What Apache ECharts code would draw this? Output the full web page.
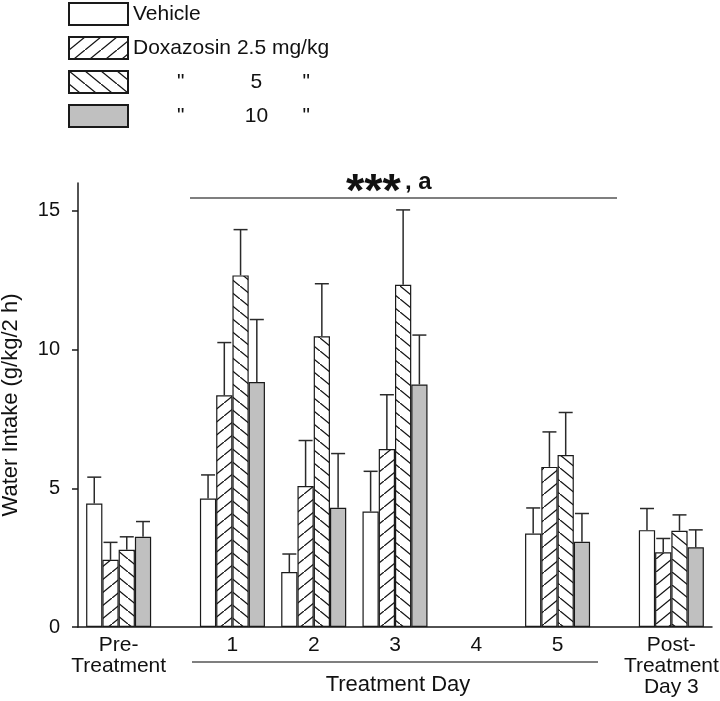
<!DOCTYPE html>
<html>
<head>
<meta charset="utf-8">
<script src="https://cdn.jsdelivr.net/npm/echarts@6/dist/echarts.min.js"></script>
<style>
  html, body { margin: 0; padding: 0; background: #fff; }
  #chart { width: 720px; height: 701px; }
</style>
</head>
<body>
<div id="chart"></div>
<script>
// ---------- data ----------
const categories = ['Pre-\nTreatment', '1', '2', '3', '4', '5', 'Post-\nTreatment\nDay 3'];
const seriesNames = ['Vehicle', 'Doxazosin 2.5 mg/kg', '5', '10'];
const vehicle     = [4.45, 4.63, 1.98, 4.16, null, 3.37, 3.49];
const vehicleErr  = [0.95, 0.85, 0.65, 1.45, null, 0.92, 0.78];
const dox25       = [2.42, 8.35, 5.08, 6.41, null, 5.77, 2.69];
const dox25Err    = [0.63, 1.90, 1.64, 1.96, null, 1.26, 0.50];
const dox5        = [2.78, 12.67, 10.48, 12.33, null, 6.20, 3.47];
const dox5Err     = [0.47, 1.65, 1.89, 2.70, null, 1.53, 0.57];
const dox10       = [3.25, 8.83, 4.30, 8.74, null, 3.07, 2.87];
const dox10Err    = [0.55, 2.25, 1.95, 1.78, null, 1.02, 0.63];
const yTicks = [0, 5, 10, 15];
const yAxisName = 'Water Intake (g/kg/2 h)';
const xAxisTitle = 'Treatment Day';
const sigLabelStars = '***';
const sigLabelRest = ', a';

// ---------- layout ----------
const SLOT_COUNT = 39;
const GROUP_SLOT = [2, 9, 14, 19, 24, 29, 36];
const FONT = '"Liberation Sans", Arial, sans-serif';
const GRID = { left: 78, right: 8, top: 183, bottom: 74, containLabel: false, outerBoundsMode: 'none' };
const BAR_W = (720 - GRID.left - GRID.right) / SLOT_COUNT;

function hatch(dir) {
  const W = 16, H = 13;
  const c = document.createElement('canvas');
  c.width = W; c.height = H;
  const ctx = c.getContext('2d');
  ctx.fillStyle = '#fff';
  ctx.fillRect(0, 0, W, H);
  ctx.strokeStyle = '#111';
  ctx.lineWidth = 1.3;
  ctx.beginPath();
  if (dir === '/') {
    ctx.moveTo(-W * 0.1, H * 1.1); ctx.lineTo(W * 1.1, -H * 0.1);
  } else {
    ctx.moveTo(-W * 0.1, -H * 0.1); ctx.lineTo(W * 1.1, H * 1.1);
  }
  ctx.stroke();
  return c;
}

const fills = [
  '#ffffff',
  { image: hatch('/'), repeat: 'repeat' },
  { image: hatch('\\'), repeat: 'repeat' },
  '#c0c0c0'
];
const means = [vehicle, dox25, dox5, dox10];
const errs = [vehicleErr, dox25Err, dox5Err, dox10Err];

const slotLabel = {};
GROUP_SLOT.forEach((s, i) => { slotLabel[s] = categories[i]; });
const slots = Array.from({ length: SLOT_COUNT }, (_, i) => String(i));

function slotData(arr) {
  const out = new Array(SLOT_COUNT).fill(null);
  arr.forEach((v, i) => { out[GROUP_SLOT[i]] = v; });
  return out;
}

const series = [];
means.forEach((m, k) => {
  series.push({
    name: seriesNames[k],
    type: 'bar',
    data: slotData(m),
    barWidth: BAR_W,
    barGap: '0%',
    itemStyle: { color: fills[k], borderColor: '#1a1a1a', borderWidth: 1.2 },
    emphasis: { disabled: true },
    z: 2
  });
});
means.forEach((m, k) => {
  const d = [];
  m.forEach((v, i) => { if (v != null) d.push([GROUP_SLOT[i], v, errs[k][i]]); });
  series.push({
    name: 'err' + k,
    type: 'custom',
    data: d,
    encode: { x: 0, y: 1 },
    z: 3,
    silent: true,
    renderItem: function (params, api) {
      const slot = api.value(0), v = api.value(1), e = api.value(2);
      const p0 = api.coord([slot, v]);
      const p1 = api.coord([slot, v + e]);
      const bw = api.size([1, 0])[0];
      const x = p0[0] + (k - 1.5) * bw;
      const cap = 7;
      const st = { stroke: '#2a2a2a', lineWidth: 1.5 };
      return {
        type: 'group',
        children: [
          { type: 'line', shape: { x1: x, y1: p0[1], x2: x, y2: p1[1] }, style: st },
          { type: 'line', shape: { x1: x - cap, y1: p1[1], x2: x + cap, y2: p1[1] }, style: st }
        ]
      };
    }
  });
});

const LF = 21;
const richLegend = {
  p: { width: 44, fontSize: LF, fontFamily: FONT, color: '#111' },
  q: { fontSize: LF, fontFamily: FONT, color: '#111' },
  s1: { width: 56, fontSize: LF, fontFamily: FONT, color: '#111' },
  n: { width: 32, align: 'center', fontSize: LF, fontFamily: FONT, color: '#111' },
  s2: { width: 30, fontSize: LF, fontFamily: FONT, color: '#111' }
};

const chart = echarts.init(document.getElementById('chart'), null, { renderer: 'canvas' });
chart.setOption({
  backgroundColor: '#fff',
  animation: false,
  textStyle: { fontFamily: FONT },
  legend: {
    data: seriesNames,
    orient: 'vertical',
    left: 68,
    top: 2,
    padding: 0,
    itemWidth: 59,
    itemHeight: 22,
    itemGap: 10,
    icon: 'rect',
    textStyle: { fontSize: LF, fontFamily: FONT, color: '#111', rich: richLegend },
    formatter: function (name) {
      if (name === seriesNames[2] || name === seriesNames[3]) {
        return '{p| }{q|"}{s1| }{n|' + name + '}{s2| }{q|"}';
      }
      return name;
    }
  },
  grid: GRID,
  xAxis: {
    type: 'category',
    data: slots,
    boundaryGap: true,
    axisLine: { lineStyle: { color: '#1a1a1a', width: 1.5 } },
    axisTick: { show: false },
    axisLabel: {
      interval: 0,
      margin: 8,
      fontSize: 21,
      lineHeight: 21,
      color: '#111',
      fontFamily: FONT,
      formatter: function (v, idx) { return slotLabel[idx] || ''; }
    },
    splitLine: { show: false }
  },
  yAxis: {
    type: 'value',
    min: 0,
    max: 16,
    interval: 5,
    name: yAxisName,
    nameLocation: 'middle',
    nameGap: 56,
    nameRotate: 90,
    nameTextStyle: { fontSize: 22, color: '#111', fontFamily: FONT },
    axisLine: { show: true, lineStyle: { color: '#1a1a1a', width: 1.5 } },
    axisTick: { show: true, length: 6, customValues: yTicks, lineStyle: { color: '#1a1a1a', width: 1.5 } },
    axisLabel: {
      margin: 18, fontSize: 20, color: '#111', fontFamily: FONT,
      customValues: yTicks,
      formatter: function (v) { return yTicks.indexOf(v) >= 0 ? String(v) : ''; }
    },
    splitLine: { show: false }
  },
  graphic: [
    { type: 'line', shape: { x1: 190, y1: 198, x2: 617, y2: 198 }, style: { stroke: '#555', lineWidth: 1.5 }, silent: true },
    { type: 'text', x: 346, y: 193, style: { text: sigLabelStars, font: 'bold 47px ' + FONT, fill: '#111', align: 'left', verticalAlign: 'middle' }, silent: true },
    { type: 'text', x: 405, y: 182, style: { text: sigLabelRest, font: 'bold 24px ' + FONT, fill: '#111', align: 'left', verticalAlign: 'middle' }, silent: true },
    { type: 'line', shape: { x1: 192, y1: 662, x2: 598, y2: 662 }, style: { stroke: '#555', lineWidth: 1.5 }, silent: true },
    { type: 'text', x: 398, y: 685, style: { text: xAxisTitle, font: '22px ' + FONT, fill: '#111', align: 'center', verticalAlign: 'middle' }, silent: true }
  ],
  series: series
});
</script>
</body>
</html>
